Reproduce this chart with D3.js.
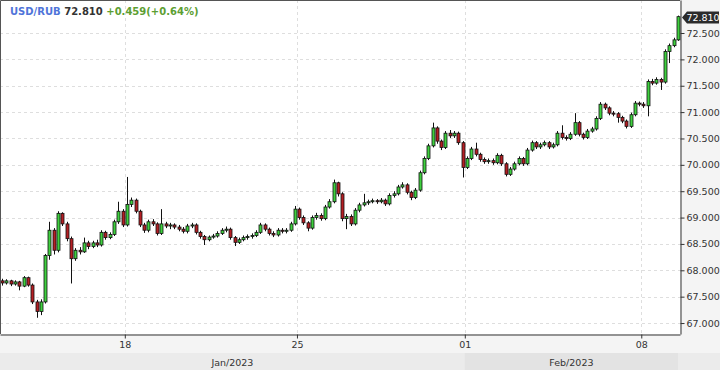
<!DOCTYPE html>
<meta charset="utf-8">
<script src="https://d3js.org/d3.v7.min.js"></script>
<style>
  body { margin: 0; background: #f4f4f4; }
  text { font-family: "DejaVu Sans", sans-serif; }
</style>
<body>
<svg width="720" height="370"></svg>
<script>
    // USD/RUB, 3-hour candles, 12 Jan - 9 Feb 2023
    var opens = [
        67.80,67.76,67.80,67.74,67.78,67.70,67.86,67.72,67.40,67.22,
        67.40,68.28,68.76,68.38,69.08,68.88,68.60,68.22,68.38,68.35,
        68.52,68.45,68.52,68.48,68.72,68.62,68.68,68.92,69.12,68.86,
        69.25,69.33,69.12,68.86,68.76,68.92,68.88,68.70,68.88,68.84,
        68.86,68.82,68.78,68.74,68.84,68.86,68.72,68.64,68.58,68.63,
        68.65,68.70,68.76,68.78,68.62,68.53,68.58,68.62,68.64,68.66,
        68.72,68.86,68.78,68.70,68.67,68.76,68.74,68.76,68.88,69.16,
        69.00,68.90,68.80,69.00,69.04,68.98,69.20,69.30,69.66,69.45,
        68.98,69.02,68.88,69.14,69.24,69.28,69.30,69.32,69.30,69.33,
        69.26,69.42,69.45,69.58,69.62,69.48,69.38,69.52,69.85,70.12,
        70.36,70.70,70.45,70.33,70.60,70.55,70.60,70.42,69.95,70.12,
        70.30,70.20,70.10,70.06,70.08,70.04,70.18,70.02,69.82,69.92,
        70.02,70.12,70.02,70.28,70.42,70.34,70.38,70.42,70.34,70.38,
        70.60,70.52,70.50,70.58,70.80,70.58,70.52,70.64,70.68,70.88,
        71.15,71.08,70.98,70.97,70.90,70.83,70.73,70.95,71.17,71.15,
        71.12,71.58,71.55,71.62,71.57,72.15,72.26,72.37
    ];
    var closes = [
        67.76,67.80,67.74,67.78,67.70,67.86,67.72,67.40,67.22,67.40,
        68.28,68.76,68.38,69.08,68.88,68.60,68.22,68.38,68.35,68.52,
        68.45,68.52,68.48,68.72,68.62,68.68,68.92,69.12,68.86,69.25,
        69.33,69.12,68.86,68.76,68.92,68.88,68.70,68.88,68.84,68.86,
        68.82,68.78,68.74,68.84,68.86,68.72,68.64,68.58,68.63,68.65,
        68.70,68.76,68.78,68.62,68.53,68.58,68.62,68.64,68.66,68.72,
        68.86,68.78,68.70,68.67,68.76,68.74,68.76,68.88,69.16,69.00,
        68.90,68.80,69.00,69.04,68.98,69.20,69.30,69.66,69.45,68.98,
        69.02,68.88,69.14,69.24,69.28,69.30,69.32,69.30,69.33,69.26,
        69.42,69.45,69.58,69.62,69.48,69.38,69.52,69.85,70.12,70.36,
        70.70,70.45,70.33,70.60,70.55,70.60,70.42,69.95,70.12,70.30,
        70.20,70.10,70.06,70.08,70.04,70.18,70.02,69.82,69.92,70.02,
        70.12,70.02,70.28,70.42,70.34,70.38,70.42,70.34,70.38,70.60,
        70.52,70.50,70.58,70.80,70.58,70.52,70.64,70.68,70.88,71.15,
        71.08,70.98,70.97,70.90,70.83,70.73,70.95,71.17,71.15,71.12,
        71.58,71.55,71.62,71.57,72.15,72.26,72.37,72.81
    ];
    var highs = [
        67.84,67.83,67.82,67.81,67.80,67.89,67.88,67.75,67.44,67.45,
        68.31,68.92,68.80,69.12,69.10,68.92,68.64,68.42,68.44,68.62,
        68.56,68.56,68.58,68.76,68.75,68.72,68.96,69.30,69.16,69.77,
        69.38,69.36,69.15,68.90,68.96,68.97,68.91,69.16,68.92,68.90,
        68.89,68.86,68.82,68.88,68.90,68.89,68.75,68.67,68.66,68.69,
        68.74,68.80,68.83,68.81,68.65,68.62,68.66,68.68,68.70,68.76,
        68.90,68.89,68.81,68.74,68.80,68.80,68.80,68.92,69.22,69.19,
        69.04,68.93,69.04,69.09,69.08,69.24,69.35,69.72,69.68,69.48,
        69.07,69.06,69.18,69.28,69.45,69.34,69.36,69.35,69.37,69.36,
        69.46,69.50,69.62,69.67,69.65,69.51,69.56,69.89,70.16,70.40,
        70.80,70.73,70.48,70.64,70.66,70.64,70.63,70.45,70.16,70.34,
        70.42,70.23,70.14,70.12,70.12,70.22,70.21,70.05,69.96,70.06,
        70.16,70.15,70.32,70.46,70.45,70.42,70.46,70.45,70.42,70.64,
        70.75,70.56,70.62,70.98,70.83,70.61,70.68,70.72,70.92,71.19,
        71.18,71.11,71.02,71.00,70.93,70.86,70.99,71.21,71.20,71.19,
        71.62,71.63,71.66,71.65,72.19,72.30,72.41,72.83
    ];
    var lows = [
        67.71,67.73,67.70,67.71,67.62,67.68,67.69,67.36,67.10,67.15,
        67.37,68.20,68.30,68.34,68.84,68.55,67.75,68.18,68.30,68.33,
        68.40,68.42,68.44,68.45,68.58,68.59,68.65,68.88,68.82,68.83,
        69.20,69.08,68.82,68.71,68.72,68.84,68.66,68.67,68.80,68.78,
        68.78,68.74,68.70,68.70,68.80,68.68,68.60,68.48,68.55,68.60,
        68.62,68.67,68.72,68.58,68.46,68.50,68.55,68.58,68.60,68.63,
        68.69,68.74,68.66,68.63,68.64,68.70,68.70,68.73,68.85,68.96,
        68.86,68.74,68.77,68.96,68.94,68.95,69.17,69.27,69.40,68.93,
        68.78,68.84,68.85,69.10,69.21,69.24,69.27,69.26,69.27,69.22,
        69.23,69.38,69.42,69.55,69.44,69.33,69.35,69.49,69.82,70.09,
        70.33,70.40,70.28,70.30,70.51,70.51,70.38,69.76,69.92,70.09,
        70.16,70.06,70.02,70.02,70.00,70.01,69.98,69.78,69.79,69.89,
        69.99,69.98,69.99,70.25,70.30,70.30,70.35,70.30,70.31,70.35,
        70.48,70.46,70.47,70.55,70.54,70.48,70.49,70.61,70.65,70.85,
        71.04,70.94,70.92,70.80,70.79,70.69,70.70,70.92,71.11,71.08,
        70.92,71.51,71.52,71.42,71.54,71.93,72.23,72.35
    ];

    var yTicks      = [67.0, 67.5, 68.0, 68.5, 69.0, 69.5, 70.0, 70.5, 71.0, 71.5, 72.0, 72.5];
    var dayLabels   = ["18", "25", "01", "08"];
    var dayIndex    = [29, 69, 108, 149];
    var monthLabels = ["Jan/2023", "Feb/2023"];
    var monthIndex  = [0, 108];
    var symbol = "USD/RUB", change = 0.459, changePct = 0.64;

    var svg = d3.select('svg');
    var W = 680, H = 334, N = closes.length;

    var x = d3.scaleLinear().domain([0, N]).range([0, W]);
    var y = d3.scaleLinear().domain([66.792, 73.126]).range([H, 0]);
    var fmt = d3.format(".3f");

    svg.append('rect').attr('width', 720).attr('height', 370).attr('fill', '#f4f4f4');
    svg.append('rect').attr('width', W).attr('height', H).attr('fill', '#fff');

    // month band
    var monthEnd = monthIndex.slice(1).concat([N]);
    svg.append('rect').attr('x', 0).attr('y', 353).attr('width', 720).attr('height', 17).attr('fill', '#ebebeb');
    monthLabels.forEach(function(m, i){
        var x0 = x(monthIndex[i]), x1 = Math.min(x(monthEnd[i]), 678);
        svg.append('rect').attr('x', x0).attr('y', 353).attr('width', x1 - x0).attr('height', 17)
            .attr('fill', i % 2 ? '#e3e3e3' : '#ebebeb');
        svg.append('text').attr('x', (x0 + x1) / 2).attr('y', 366)
            .attr('text-anchor', 'middle').attr('font-size', 9.5).attr('fill', '#333')
            .text(m);
    });

    // grid
    svg.append('g').selectAll('line').data(yTicks).enter().append('line')
        .attr('x1', 0).attr('x2', W)
        .attr('y1', function(d){ return Math.round(y(d)) + 0.5; })
        .attr('y2', function(d){ return Math.round(y(d)) + 0.5; })
        .attr('stroke', '#dedede').attr('stroke-dasharray', '3,3');
    svg.append('g').selectAll('line').data(dayIndex).enter().append('line')
        .attr('y1', 0).attr('y2', H)
        .attr('x1', function(d){ return Math.round(x(d)) + 0.5; })
        .attr('x2', function(d){ return Math.round(x(d)) + 0.5; })
        .attr('stroke', '#dedede').attr('stroke-dasharray', '3,3');

    // candles
    var idx = d3.range(N);
    var step = x(1) - x(0);
    var g = svg.append('g');
    g.selectAll('line').data(idx).enter().append('line')
        .attr('x1', function(i){ return Math.round(x(i) + step / 2) + 0.5; })
        .attr('x2', function(i){ return Math.round(x(i) + step / 2) + 0.5; })
        .attr('y1', function(i){ return y(highs[i]); })
        .attr('y2', function(i){ return y(lows[i]); })
        .attr('stroke', '#111').attr('stroke-width', 1);
    g.selectAll('rect').data(idx).enter().append('rect')
        .attr('x', function(i){ return Math.round(x(i) + step / 2) - 1; })
        .attr('width', 3)
        .attr('y', function(i){ return y(Math.max(opens[i], closes[i])); })
        .attr('height', function(i){ return Math.max(1, Math.abs(y(opens[i]) - y(closes[i]))); })
        .attr('fill', function(i){ return closes[i] >= opens[i] ? '#3fd03f' : '#b51f24'; })
        .attr('stroke', '#111').attr('stroke-width', 0.8);

    // frame
    svg.append('path').attr('d', 'M0.5,' + H + 'V0.5H' + W)
        .attr('fill', 'none').attr('stroke', '#555');

    // axes
    var ay = svg.append('g').attr('transform', 'translate(' + (W + 0.5) + ',0)')
        .call(d3.axisRight(y).tickValues(yTicks).tickFormat(fmt).tickSize(4).tickSizeOuter(0));
    var ax = svg.append('g').attr('transform', 'translate(0,' + (H + 0.5) + ')')
        .call(d3.axisBottom(x).tickValues(dayIndex)
            .tickFormat(function(d, i){ return dayLabels[i]; }).tickSize(4).tickSizeOuter(0));
    [ax, ay].forEach(function(a){
        a.select('.domain').attr('stroke', '#333');
        a.selectAll('.tick line').attr('stroke', '#333');
        a.selectAll('text').attr('font-size', 9.5).attr('fill', '#333')
            .attr('font-family', '"DejaVu Sans", sans-serif');
    });
    ay.selectAll('text').attr('x', 6);
    ax.selectAll('text').attr('y', 7);

    // last price tag
    var last = closes[N - 1], yl = Math.round(y(last)) + 0.5;
    svg.append('path')
        .attr('d', 'M682,' + yl + 'L687,' + (yl - 6) + 'H719V' + (yl + 6) + 'H687Z')
        .attr('fill', '#2b2b2b');
    svg.append('text').attr('x', 703).attr('y', yl + 3.5).attr('text-anchor', 'middle')
        .attr('font-size', 9.5).attr('fill', '#fff').text(fmt(last));

    // title
    var t = svg.append('text').attr('x', 10).attr('y', 15)
        .attr('font-size', 10).attr('font-weight', 'bold');
    t.append('tspan').attr('fill', '#4f74d9').text(symbol);
    t.append('tspan').attr('fill', '#333').text(' ' + fmt(last));
    t.append('tspan').attr('fill', '#5c9e32')
        .text(' +' + fmt(change) + '(+' + changePct.toFixed(2) + '%)');
</script>
</body>
